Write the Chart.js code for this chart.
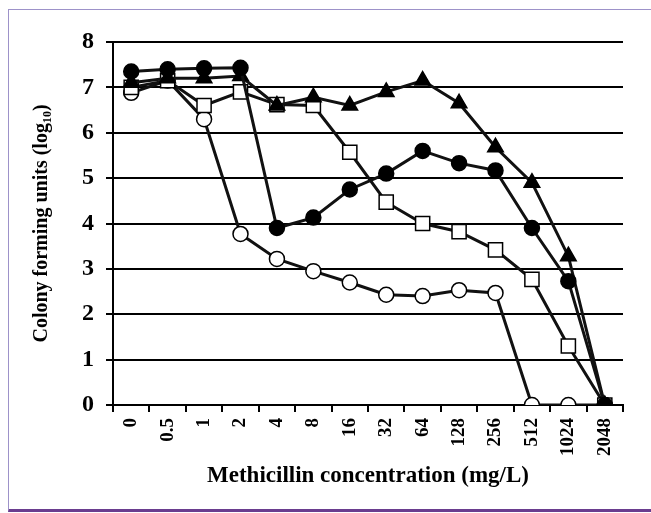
<!DOCTYPE html>
<html>
<head>
<meta charset="utf-8">
<title>Methicillin concentration</title>
<script src="https://cdn.jsdelivr.net/npm/chart.js@4.4.0/dist/chart.umd.min.js"></script>
<style>
    body { margin: 0; background: #fff; }
    #frame {
        position: absolute; left: 8px; top: 9px; width: 643px; height: 499px;
        border-left: 1px solid #9d92c9; border-top: 1px solid #9d92c9;
        border-bottom: 3px solid #6a3d8f;
    }
    #wrap { position: absolute; left: 0; top: 0; width: 651px; height: 513px; }
</style>
</head>
<body>
<div id="frame"></div>
<div id="wrap"><canvas id="cfu"></canvas></div>
<script>
// Data
const concentrations = ['0', '0.5', '1', '2', '4', '8', '16', '32', '64', '128', '256', '512', '1024', '2048'];
const filledCircles = [7.35, 7.4, 7.42, 7.43, 3.9, 4.13, 4.75, 5.1, 5.6, 5.33, 5.17, 3.9, 2.73, 0];
const filledTriangles = [7.1, 7.2, 7.2, 7.25, 6.6, 6.78, 6.6, 6.9, 7.15, 6.65, 5.68, 4.9, 3.28, 0];
const openSquares = [7.0, 7.15, 6.6, 6.9, 6.62, 6.6, 5.57, 4.47, 4.0, 3.82, 3.42, 2.77, 1.3, 0];
const openCircles = [6.88, 7.15, 6.3, 3.77, 3.22, 2.95, 2.7, 2.43, 2.4, 2.53, 2.47, 0, 0, 0];
const yTicks = [0, 1, 2, 3, 4, 5, 6, 7, 8];

const serif = "'Liberation Serif', 'Times New Roman', serif";

function series(data, style, radius, fill) {
    return {
        data: data,
        borderColor: '#111',
        borderWidth: 3,
        pointStyle: style,
        pointRadius: radius,
        pointBackgroundColor: fill,
        pointBorderColor: '#000',
        pointBorderWidth: 1.5,
        tension: 0,
        fill: false
    };
}

new Chart(document.getElementById('cfu'), {
    type: 'line',
    data: {
        labels: concentrations,
        datasets: [
            series(filledCircles, 'circle', 7.5, '#000'),
            series(filledTriangles, 'triangle', 9, '#000'),
            series(openSquares, 'rect', 10, '#fff'),
            series(openCircles, 'circle', 7.5, '#fff')
        ]
    },
    options: {
        responsive: true,
        maintainAspectRatio: false,
        animation: false,
        layout: { padding: { top: 42, right: 28, bottom: 23, left: 30 } },
        plugins: {
            legend: { display: false },
            tooltip: { enabled: false }
        },
        scales: {
            x: {
                offset: true,
                grid: { drawOnChartArea: false, offset: true, color: '#000', lineWidth: 2, tickLength: 7 },
                border: { color: '#000', width: 2 },
                ticks: {
                    minRotation: 90, maxRotation: 90, color: '#000', padding: 6,
                    font: { family: serif, size: 19, weight: 'bold' }
                },
                title: {
                    display: true, text: 'Methicillin concentration (mg/L)', color: '#000',
                    font: { family: serif, size: 23, weight: 'bold' }, padding: { top: 6, bottom: 0 }
                },
                afterFit: (scale) => { scale.height = 85; }
            },
            y: {
                min: 0, max: 8,
                afterBuildTicks: (scale) => { scale.ticks = yTicks.map(v => ({ value: v })); },
                grid: { color: '#000', lineWidth: 2, tickLength: 7 },
                border: { color: '#000', width: 2 },
                ticks: {
                    color: '#000', padding: 12,
                    font: { family: serif, size: 24, weight: 'bold' }
                },
                title: {
                    display: true, text: 'Colony forming units (log\u2081\u2080)', color: '#000',
                    font: { family: serif, size: 20, weight: 'bold' }, padding: { top: 0, bottom: 0 }
                },
                afterFit: (scale) => { scale.width = 83; }
            }
        }
    }
});
</script>
</body>
</html>
